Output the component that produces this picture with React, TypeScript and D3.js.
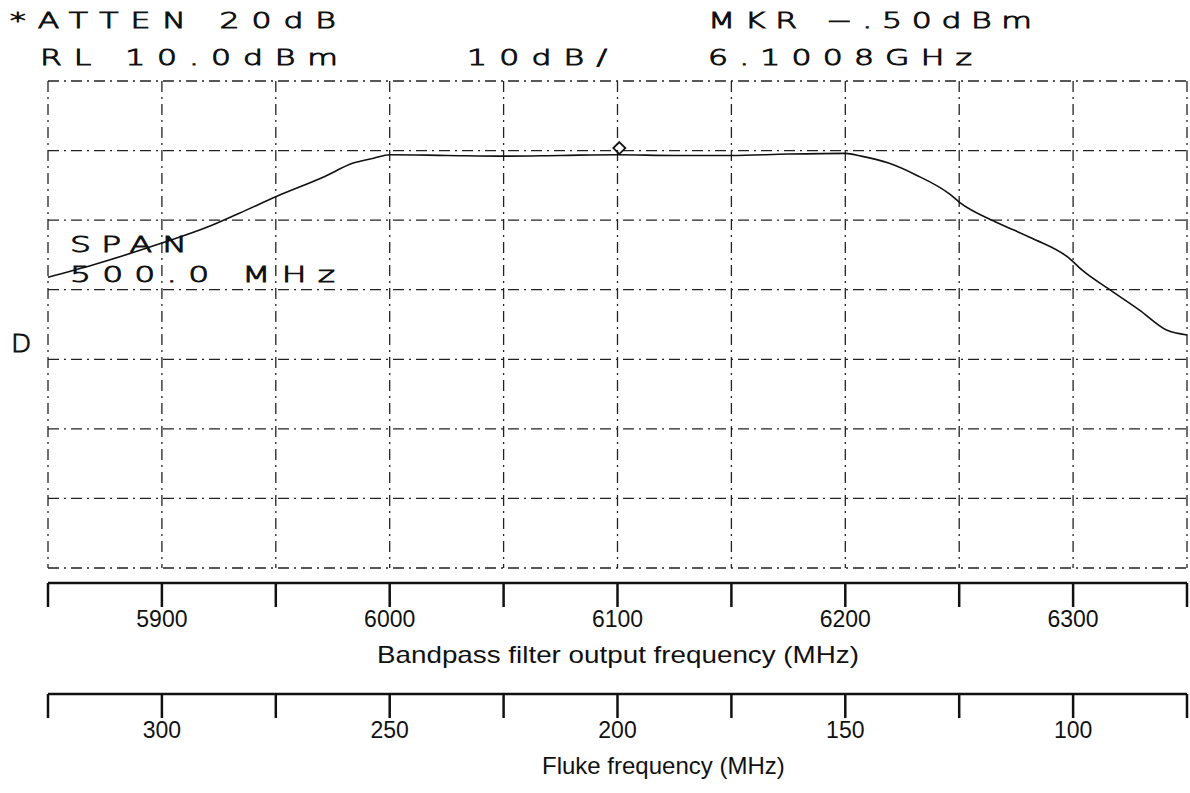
import React from 'react';
import * as d3 from 'd3';

// ---- data ----
const freqMHz = [5850, 5870, 5900, 5920, 5934, 5951, 5971, 5984, 5993, 6000, 6025, 6050, 6075, 6100, 6125, 6150, 6175, 6200, 6207, 6219, 6231, 6246, 6250, 6267, 6282, 6298, 6304, 6317, 6329, 6341, 6350];
const levelDbm = [-18.2, -16.4, -13.3, -11.0, -9.0, -6.5, -3.8, -1.8, -1.1, -0.6, -0.7, -0.8, -0.7, -0.6, -0.7, -0.7, -0.5, -0.4, -0.8, -1.8, -3.5, -6.3, -7.4, -10.4, -12.6, -15.4, -17.2, -20.2, -22.9, -25.8, -26.5];
const markerFreq = 6100.8;
const markerLevel = -0.5;

const dbGridLevels = [10, 0, -10, -20, -30, -40, -50, -60];
const freqGridLines = [5850, 5900, 5950, 6000, 6050, 6100, 6150, 6200, 6250, 6300, 6350];
const outputTickLabels = [5900, 6000, 6100, 6200, 6300];
const outputTickMarks = [5850, 5900, 5950, 6000, 6050, 6100, 6150, 6200, 6250, 6300, 6350];
const flukeTickLabels = [300, 250, 200, 150, 100];
const flukeTickMarks = [325, 300, 275, 250, 225, 200, 175, 150, 125, 100, 75];

const headerTexts = ['*ATTEN 20dB', 'MKR \u2212.50dBm', 'RL 10.0dBm', '10dB/', '6.1008GHz'];
const spanTexts = ['SPAN', '500.0 MHz'];
const sideText = 'D';
const outputTitle = 'Bandpass filter output frequency (MHz)';
const flukeTitle = 'Fluke frequency (MHz)';

const W = 1190;
const H = 793;
const plotLeft = 48;
const plotRight = 1187;
const plotTop = 81;
const plotBottom = 568;

function PlotterText({ x, y, w, size, sx = 1.5, children }: { x: number; y: number; w: number; size: number; sx?: number; children: string }) {
  return (
    <text
      transform={`translate(${x},${y}) scale(${sx},1)`}
      x={0}
      y={0}
      textLength={w / sx}
      lengthAdjust="spacing"
      fontFamily="'DejaVu Sans', sans-serif"
      fontWeight={200}
      fontSize={size}
      fill="#111"
      stroke="#111"
      strokeWidth={0.9}
      style={{ whiteSpace: 'pre' }}
    >
      {children}
    </text>
  );
}

export default function App() {
  const x = d3.scaleLinear().domain([5850, 6350]).range([plotLeft, plotRight]);
  const xFluke = d3.scaleLinear().domain([325, 75]).range([plotLeft, plotRight]);
  const y = d3.scaleLinear().domain([10, -60]).range([plotTop, plotBottom]);

  const pts: [number, number][] = freqMHz.map((f, i) => [f, levelDbm[i]]);
  const line = d3
    .line<[number, number]>()
    .x((d) => x(d[0]))
    .y((d) => y(d[1]))
    .curve(d3.curveMonotoneX);

  const gridDash = '11,5,2,5';
  const axis1Y = 583;
  const axis2Y = 694;
  const tickLen = 24;

  const mx = x(markerFreq);
  const my = y(markerLevel) - 6;

  return (
    <svg width={W} height={H} style={{ position: 'absolute', left: 0, top: 0, background: '#fff' }}>
      <rect width={W} height={H} fill="#fff" />
      {/* header */}
      <PlotterText x={10} y={28} w={326} size={21}>{headerTexts[0]}</PlotterText>
      <PlotterText x={708} y={28} w={324} size={21}>{headerTexts[1]}</PlotterText>
      <PlotterText x={40} y={65} w={298} size={21}>{headerTexts[2]}</PlotterText>
      <PlotterText x={467} y={65} w={140} size={21}>{headerTexts[3]}</PlotterText>
      <PlotterText x={708} y={65} w={264} size={21}>{headerTexts[4]}</PlotterText>

      {/* grid */}
      <g stroke="#222" strokeWidth={1.3} strokeDasharray={gridDash} fill="none">
        {dbGridLevels.map((d) => (
          <line key={'h' + d} x1={plotLeft} x2={plotRight} y1={y(d)} y2={y(d)} />
        ))}
        {freqGridLines.map((f) => (
          <line key={'v' + f} x1={x(f)} x2={x(f)} y1={plotTop} y2={plotBottom} />
        ))}
      </g>

      {/* span annotation */}
      <PlotterText x={70} y={252} w={117} size={22}>{spanTexts[0]}</PlotterText>
      <PlotterText x={70} y={282} w={265} size={22}>{spanTexts[1]}</PlotterText>
      <PlotterText x={11} y={352} w={22} size={24} sx={1.1}>{sideText}</PlotterText>

      {/* trace */}
      <path d={line(pts) || ''} fill="none" stroke="#111" strokeWidth={1.6} />

      {/* marker */}
      <path
        d={`M${mx},${my - 6} L${mx + 6},${my} L${mx},${my + 6} L${mx - 6},${my} Z`}
        fill="none"
        stroke="#111"
        strokeWidth={1.8}
      />

      {/* output frequency axis */}
      <line x1={plotLeft} x2={plotRight} y1={axis1Y} y2={axis1Y} stroke="#111" strokeWidth={2.5} />
      {outputTickMarks.map((f) => (
        <line key={'ot' + f} x1={x(f)} x2={x(f)} y1={axis1Y} y2={axis1Y + tickLen} stroke="#111" strokeWidth={2.5} />
      ))}
      {outputTickLabels.map((f) => (
        <text key={'ol' + f} x={x(f)} y={627} textAnchor="middle" fontFamily="'Liberation Sans', Arial, sans-serif" fontSize={23} fill="#111">
          {f}
        </text>
      ))}
      <text x={618} y={663} textAnchor="middle" textLength={482} lengthAdjust="spacingAndGlyphs" fontFamily="'Liberation Sans', Arial, sans-serif" fontSize={24} fill="#111">
        {outputTitle}
      </text>

      {/* fluke frequency axis */}
      <line x1={plotLeft} x2={plotRight} y1={axis2Y} y2={axis2Y} stroke="#111" strokeWidth={2.5} />
      {flukeTickMarks.map((f) => (
        <line key={'ft' + f} x1={xFluke(f)} x2={xFluke(f)} y1={axis2Y} y2={axis2Y + tickLen} stroke="#111" strokeWidth={2.5} />
      ))}
      {flukeTickLabels.map((f) => (
        <text key={'fl' + f} x={xFluke(f)} y={738} textAnchor="middle" fontFamily="'Liberation Sans', Arial, sans-serif" fontSize={23} fill="#111">
          {f}
        </text>
      ))}
      <text x={542} y={774} fontFamily="'Liberation Sans', Arial, sans-serif" fontSize={24} fill="#111">
        {flukeTitle}
      </text>
    </svg>
  );
}
